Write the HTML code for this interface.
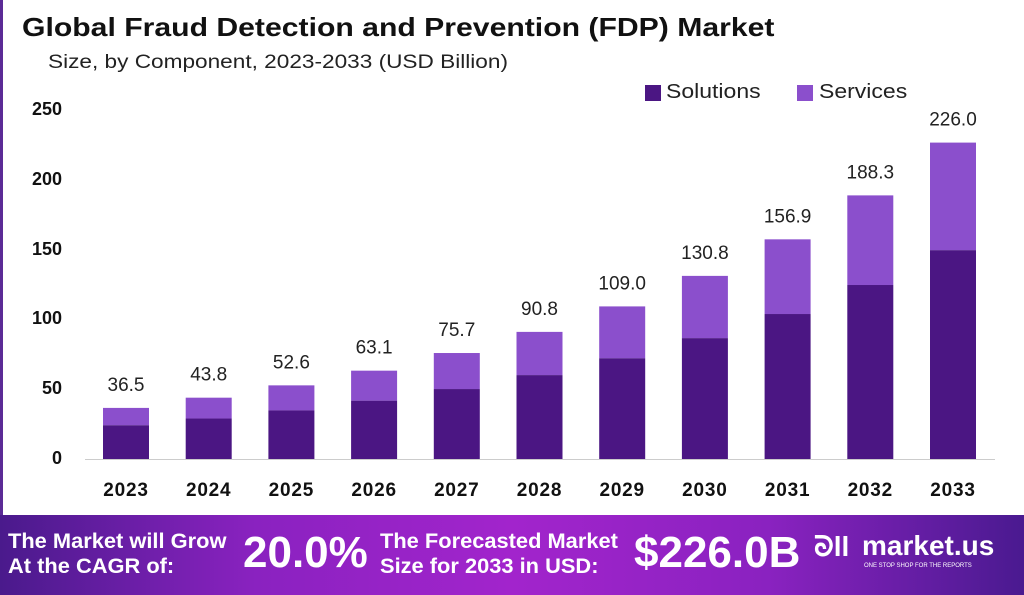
<!DOCTYPE html>
<html><head><meta charset="utf-8"><style>
body{margin:0;width:1024px;height:595px;overflow:hidden;background:#fff;font-family:"Liberation Sans",sans-serif;position:relative}
.t{position:absolute;white-space:nowrap;transform-origin:0 0}
</style></head><body>
<div style="position:absolute;left:0;top:0;width:3px;height:515px;background:#5b2a96"></div>
<div class="t" style="left:22px;top:12px;font-size:26px;font-weight:bold;color:#111;transform:scaleX(1.16)">Global Fraud Detection and Prevention (FDP) Market</div>
<div class="t" style="left:48px;top:52px;font-size:19px;color:#222;transform:scaleX(1.19)">Size, by Component, 2023-2033 (USD Billion)</div>
<div style="position:absolute;left:645px;top:85px;width:16px;height:16px;background:#4b1683"></div>
<div class="t" style="left:666px;top:81px;font-size:20px;color:#222;transform:scaleX(1.15)">Solutions</div>
<div style="position:absolute;left:797px;top:85px;width:16px;height:16px;background:#8b4fcc"></div>
<div class="t" style="left:819px;top:81px;font-size:20px;color:#222;transform:scaleX(1.15)">Services</div>
<svg width="1024" height="515" style="position:absolute;left:0;top:0" font-family="Liberation Sans, sans-serif">
<g font-size="18" font-weight="bold" fill="#111" text-anchor="end">
<text x="62" y="115">250</text><text x="62" y="185">200</text><text x="62" y="255">150</text><text x="62" y="324">100</text><text x="62" y="394">50</text><text x="62" y="464">0</text>
</g>
<line x1="85" y1="459.5" x2="995" y2="459.5" stroke="#ccc" stroke-width="1"/>
<g id="bars"></g>
</svg>
<div style="position:absolute;left:0;top:515px;width:1024px;height:80px;background:linear-gradient(90deg,#4a1a8c 0%,#8a22c0 25%,#a224cc 50%,#8a22c0 75%,#4a1a90 100%)"></div>
<div class="t" style="left:8px;top:529px;font-size:21px;font-weight:bold;color:#fff;line-height:25px;transform:scaleX(1.04)">The Market will Grow<br>At the CAGR of:</div>
<div class="t" style="left:243px;top:528px;font-size:44px;font-weight:bold;color:#fff">20.0%</div>
<div class="t" style="left:380px;top:529px;font-size:21px;font-weight:bold;color:#fff;line-height:25px;transform:scaleX(1.04)">The Forecasted Market<br>Size for 2033 in USD:</div>
<div class="t" style="left:634px;top:528px;font-size:44px;font-weight:bold;color:#fff">$226.0B</div>
<div class="t" style="left:814px;top:531px;font-size:28px;font-weight:bold;color:#fff">ᘐll</div>
<div class="t" style="left:862px;top:530px;font-size:28px;font-weight:bold;color:#fff">market.us</div>
<div class="t" style="left:864px;top:563px;font-size:6px;color:#fff">ONE STOP SHOP FOR THE REPORTS</div>
<script>
var v=[36.5,43.8,52.6,63.1,75.7,90.8,109.0,130.8,156.9,188.3,226.0],g=document.getElementById('bars'),s='';
v.forEach(function(d,i){var x=103+i*82.7,h=d*1.4,sh=h*0.66,top=459-h;
s+='<rect x="'+x+'" y="'+top+'" width="46" height="'+(h-sh)+'" fill="#8b4fcc"/>';
s+='<rect x="'+x+'" y="'+(459-sh)+'" width="46" height="'+sh+'" fill="#4b1683"/>';
s+='<text x="'+(x+23)+'" y="'+(top-17)+'" font-size="19" fill="#222" text-anchor="middle">'+d.toFixed(1)+'</text>';
s+='<text x="'+(x+23)+'" y="496" font-size="19" font-weight="bold" fill="#111" text-anchor="middle" letter-spacing="0.8">'+(2023+i)+'</text>';});
g.innerHTML=s;
</script>
</body></html>
